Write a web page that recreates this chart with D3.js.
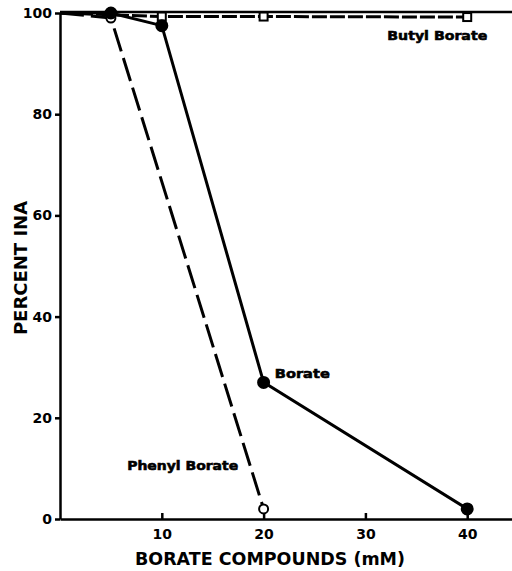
<!DOCTYPE html>
<html>
<head>
<meta charset="utf-8">
<script src="https://cdn.jsdelivr.net/npm/d3@7"></script>
<style>
  body { margin: 0; background: #fff; }
  svg { display: block; }
</style>
</head>
<body>
<svg class="chart_svg"></svg>
<script>
// values
const xTicks = [10, 20, 30, 40];
const yTicks = [0, 20, 40, 60, 80, 100];
const borateX = [0, 5, 10, 20, 40];
const borateY = [100, 100, 97.5, 27, 2];
const phenylX = [0, 5, 20];
const phenylY = [100, 99, 2];
const butylX = [0, 10, 20, 40];
const butylY = [100, 99.3, 99.3, 99.2];

const width = 512, height = 571;
const margin = {top: 13, right: 0, bottom: 52, left: 60};

let svg = d3.select(".chart_svg")
    .attr("width", width)
    .attr("height", height);

let xScale = d3.scaleLinear()
    .domain([0, 44.4])
    .range([margin.left, width - margin.right]);

let yScale = d3.scaleLinear()
    .domain([0, 100])
    .range([height - margin.bottom, margin.top]);

const boldFont = "'DejaVu Sans', sans-serif";

// x axis, ticks pointing up into the plot
let xAxis = svg.append("g")
    .attr("transform", `translate(0, ${yScale(0)})`)
    .call(d3.axisBottom(xScale).tickValues(xTicks).tickSizeInner(-6).tickSizeOuter(0).tickPadding(10));
xAxis.select(".domain").attr("stroke-width", 2.5);
xAxis.selectAll(".tick line").attr("stroke-width", 2.5);
xAxis.selectAll("text")
    .attr("font-family", boldFont)
    .attr("font-weight", "bold")
    .attr("font-size", 14)
    .attr("fill", "#000");

// y axis, ticks pointing out
let yAxis = svg.append("g")
    .attr("transform", `translate(${xScale(0)}, 0)`)
    .call(d3.axisLeft(yScale).tickValues(yTicks).tickSizeInner(5).tickSizeOuter(0).tickPadding(3));
yAxis.select(".domain").attr("stroke-width", 2.5);
yAxis.selectAll(".tick line").attr("stroke-width", 2.5);
yAxis.selectAll("text")
    .attr("font-family", boldFont)
    .attr("font-weight", "bold")
    .attr("font-size", 14)
    .attr("fill", "#000");

// top frame line at 100
svg.append("line")
    .attr("x1", xScale(0)).attr("x2", xScale(44.4))
    .attr("y1", yScale(100) - 1).attr("y2", yScale(100) - 1)
    .attr("stroke", "#000")
    .attr("stroke-width", 2.5);

let line = d3.line()
    .x(d => xScale(d[0]))
    .y(d => yScale(d[1]));

const series = [
    {name: "butyl", pts: d3.zip(butylX, butylY), dash: "15,3", marker: "square"},
    {name: "phenyl", pts: d3.zip(phenylX, phenylY), dash: "24,7", marker: "open"},
    {name: "borate", pts: d3.zip(borateX, borateY), dash: null, marker: "filled"}
];

series.forEach(s => {
    svg.append("path")
        .datum(s.pts)
        .attr("d", line)
        .attr("fill", "none")
        .attr("stroke", "#000")
        .attr("stroke-width", 3)
        .attr("stroke-dasharray", s.dash);

    let pts = s.pts.slice(1);
    if (s.marker === "square") {
        svg.append("g").selectAll("rect")
            .data(pts)
            .join("rect")
            .attr("x", d => xScale(d[0]) - 4)
            .attr("y", d => yScale(d[1]) - 4)
            .attr("width", 8)
            .attr("height", 8)
            .attr("fill", "#fff")
            .attr("stroke", "#000")
            .attr("stroke-width", 2);
    } else {
        svg.append("g").selectAll("circle")
            .data(pts)
            .join("circle")
            .attr("cx", d => xScale(d[0]))
            .attr("cy", d => yScale(d[1]))
            .attr("r", s.marker === "filled" ? 5.5 : 4.5)
            .attr("fill", s.marker === "filled" ? "#000" : "#fff")
            .attr("stroke", "#000")
            .attr("stroke-width", 2);
    }
});

// series labels (heavy, wide lettering)
const labels = [
    {text: "Butyl Borate", x: 32.15, y: 94.7, len: 100},
    {text: "Borate", x: 21.1, y: 27.9, len: 55},
    {text: "Phenyl Borate", x: 6.6, y: 9.6, len: 111}
];
svg.append("g").selectAll("text")
    .data(labels)
    .join("text")
    .attr("x", d => xScale(d.x))
    .attr("y", d => yScale(d.y))
    .attr("font-family", boldFont)
    .attr("font-weight", "bold")
    .attr("font-size", 13)
    .attr("stroke", "#000")
    .attr("stroke-width", 0.6)
    .attr("textLength", d => d.len)
    .attr("lengthAdjust", "spacingAndGlyphs")
    .text(d => d.text);

// axis titles
svg.append("text")
    .attr("x", 270)
    .attr("y", 565)
    .attr("text-anchor", "middle")
    .attr("font-family", boldFont)
    .attr("font-weight", "bold")
    .attr("font-size", 18)
    .attr("textLength", 270)
    .attr("lengthAdjust", "spacingAndGlyphs")
    .text("BORATE COMPOUNDS (mM)");

svg.append("text")
    .attr("transform", "translate(27, 268) rotate(-90)")
    .attr("text-anchor", "middle")
    .attr("font-family", boldFont)
    .attr("font-weight", "bold")
    .attr("font-size", 18)
    .text("PERCENT INA");
</script>
</body>
</html>
